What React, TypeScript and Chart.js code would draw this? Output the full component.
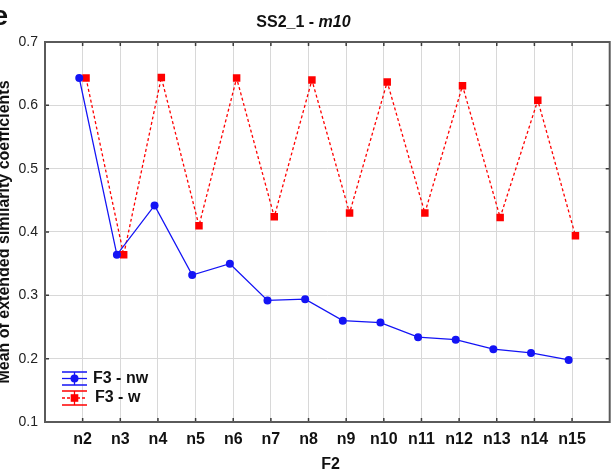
import React, { useEffect, useRef } from 'react';
import { Chart, registerables } from 'chart.js';

Chart.register(...registerables);

const categories = ['n2', 'n3', 'n4', 'n5', 'n6', 'n7', 'n8', 'n9', 'n10', 'n11', 'n12', 'n13', 'n14', 'n15'];
const nwValues = [0.643, 0.364, 0.442, 0.332, 0.350, 0.292, 0.294, 0.260, 0.257, 0.234, 0.230, 0.215, 0.209, 0.198];
const wValues = [0.643, 0.364, 0.644, 0.410, 0.643, 0.424, 0.640, 0.430, 0.637, 0.430, 0.631, 0.423, 0.608, 0.394];
const yTickValues = [0.1, 0.2, 0.3, 0.4, 0.5, 0.6, 0.7];
const seriesLabels = ['F3 - nw', 'F3 - w'];
const titleMain = 'SS2_1 - ';
const titleItalic = 'm10';
const xTitle = 'F2';
const yTitle = 'Mean of extended similarity coefficients';
const panelLabel = 'e';

const FONT = '"Liberation Sans", Arial, sans-serif';
const BLUE = 'rgb(20,20,245)';
const RED = 'rgb(255,0,0)';
const SHIFT = 12; // canvas is shifted left by this many px
const JITTER = 0.09;

const decorPlugin = {
  id: 'decor',
  beforeDatasetsDraw(chart: any) {
    const { ctx, chartArea: a, scales } = chart;
    ctx.save();
    // inner tick marks
    ctx.strokeStyle = '#3a3a3a';
    ctx.lineWidth = 1.5;
    const tl = 4;
    scales.y.ticks.forEach((t: any) => {
      const py = scales.y.getPixelForValue(t.value);
      ctx.beginPath();
      ctx.moveTo(a.left, py);
      ctx.lineTo(a.left + tl, py);
      ctx.moveTo(a.right, py);
      ctx.lineTo(a.right - tl, py);
      ctx.stroke();
    });
    scales.x.ticks.forEach((t: any) => {
      const px = scales.x.getPixelForValue(t.value);
      ctx.beginPath();
      ctx.moveTo(px, a.top);
      ctx.lineTo(px, a.top + tl);
      ctx.moveTo(px, a.bottom);
      ctx.lineTo(px, a.bottom - tl);
      ctx.stroke();
    });
    // frame
    ctx.strokeStyle = '#5a5a5a';
    ctx.lineWidth = 2;
    ctx.strokeRect(a.left, a.top, a.right - a.left, a.bottom - a.top);
    ctx.restore();
  },
  afterDraw(chart: any) {
    const { ctx, chartArea: a } = chart;
    ctx.save();
    ctx.fillStyle = '#111';
    // panel label
    ctx.font = `bold 28px ${FONT}`;
    ctx.textAlign = 'left';
    ctx.textBaseline = 'alphabetic';
    ctx.fillText(panelLabel, -7.6 + SHIFT, 25);
    // title
    ctx.font = `bold 16px ${FONT}`;
    const w1 = ctx.measureText(titleMain).width;
    ctx.font = `italic bold 16px ${FONT}`;
    const w2 = ctx.measureText(titleItalic).width;
    const tx = 303.5 + SHIFT - (w1 + w2) / 2;
    ctx.font = `bold 16px ${FONT}`;
    ctx.fillText(titleMain, tx, 27);
    ctx.font = `italic bold 16px ${FONT}`;
    ctx.fillText(titleItalic, tx + w1, 27);
    // x title
    ctx.font = `bold 16px ${FONT}`;
    ctx.textAlign = 'center';
    ctx.fillText(xTitle, 330.5 + SHIFT, 469);
    // y title
    ctx.save();
    ctx.translate(9 + SHIFT, (a.top + a.bottom) / 2);
    ctx.rotate(-Math.PI / 2);
    ctx.textAlign = 'center';
    ctx.fillText(yTitle, 0, 0);
    ctx.restore();
    // legend
    const lx0 = 62 + SHIFT;
    const lx1 = 87 + SHIFT;
    const mx = 74.5 + SHIFT;
    const entries = [
      { label: seriesLabels[0], color: BLUE, top: 372, mid: 378.5, bot: 385, dash: [] as number[], shape: 'circle', tx: 93 },
      { label: seriesLabels[1], color: RED, top: 391, mid: 398, bot: 405, dash: [3, 2], shape: 'rect', tx: 95 },
    ];
    entries.forEach((e) => {
      ctx.strokeStyle = e.color;
      ctx.lineWidth = 1.3;
      ctx.setLineDash([]);
      ctx.beginPath();
      ctx.moveTo(lx0, e.top);
      ctx.lineTo(lx1, e.top);
      ctx.moveTo(lx0, e.bot);
      ctx.lineTo(lx1, e.bot);
      ctx.moveTo(mx, e.top);
      ctx.lineTo(mx, e.bot);
      ctx.stroke();
      ctx.setLineDash(e.dash);
      ctx.beginPath();
      ctx.moveTo(lx0, e.mid);
      ctx.lineTo(lx1, e.mid);
      ctx.stroke();
      ctx.setLineDash([]);
      ctx.fillStyle = e.color;
      if (e.shape === 'circle') {
        ctx.beginPath();
        ctx.arc(mx, e.mid, 4, 0, Math.PI * 2);
        ctx.fill();
      } else {
        ctx.fillRect(mx - 3.8, e.mid - 3.8, 7.6, 7.6);
      }
      ctx.fillStyle = '#111';
      ctx.font = `bold 16px ${FONT}`;
      ctx.textAlign = 'left';
      ctx.textBaseline = 'middle';
      ctx.fillText(e.label, e.tx + SHIFT, e.mid);
    });
    ctx.restore();
  },
};

export default function App() {
  const ref = useRef<HTMLCanvasElement>(null);
  useEffect(() => {
    if (!ref.current) return;
    const chart = new Chart(ref.current, {
      type: 'line',
      data: {
        datasets: [
          {
            label: seriesLabels[0],
            data: nwValues.map((v, i) => ({ x: i + 2 - JITTER, y: v })),
            borderColor: BLUE,
            backgroundColor: BLUE,
            borderWidth: 1.3,
            pointStyle: 'circle',
            pointRadius: 4,
            pointBorderWidth: 0,
            tension: 0,
          },
          {
            label: seriesLabels[1],
            data: wValues.map((v, i) => ({ x: i + 2 + JITTER, y: v })),
            borderColor: RED,
            backgroundColor: RED,
            borderWidth: 1.3,
            borderDash: [3, 2.5],
            pointStyle: 'rect',
            pointRadius: 5.3,
            pointBorderWidth: 0,
            tension: 0,
          },
        ],
      },
      options: {
        animation: false,
        responsive: false,
        maintainAspectRatio: false,
        layout: { padding: { top: 42, right: 0, bottom: 0, left: 0 } },
        plugins: {
          legend: { display: false },
          title: { display: false },
          tooltip: { enabled: false },
        },
        scales: {
          x: {
            type: 'linear',
            min: 1,
            max: 16,
            afterBuildTicks: (s: any) => {
              s.ticks = categories.map((_, i) => ({ value: i + 2 }));
            },
            afterFit: (s: any) => {
              s.height = 50;
            },
            ticks: {
              autoSkip: false,
              maxRotation: 0,
              padding: 8,
              color: '#111',
              font: { family: FONT, size: 16, weight: 'bold' },
              callback: (v: any) => categories[Math.round(v) - 2] ?? '',
            },
            grid: { color: '#d8d8d8', lineWidth: 1, drawTicks: false },
            border: { display: false },
          },
          y: {
            min: 0.1,
            max: 0.7,
            afterBuildTicks: (s: any) => {
              s.ticks = yTickValues.map((v) => ({ value: v }));
            },
            afterFit: (s: any) => {
              s.width = 45 + SHIFT;
            },
            ticks: {
              padding: 7,
              color: '#222',
              font: { family: FONT, size: 14 },
              callback: (v: any) => Number(v).toFixed(1),
            },
            grid: { color: '#d8d8d8', lineWidth: 1, drawTicks: false },
            border: { display: false },
          },
        },
      },
      plugins: [decorPlugin],
    });
    return () => chart.destroy();
  }, []);
  return (
    <div style={{ position: 'fixed', left: -SHIFT, top: 0, width: 615 + SHIFT, height: 472, background: '#fff' }}>
      <canvas ref={ref} width={615 + SHIFT} height={472} style={{ display: 'block' }} />
    </div>
  );
}
